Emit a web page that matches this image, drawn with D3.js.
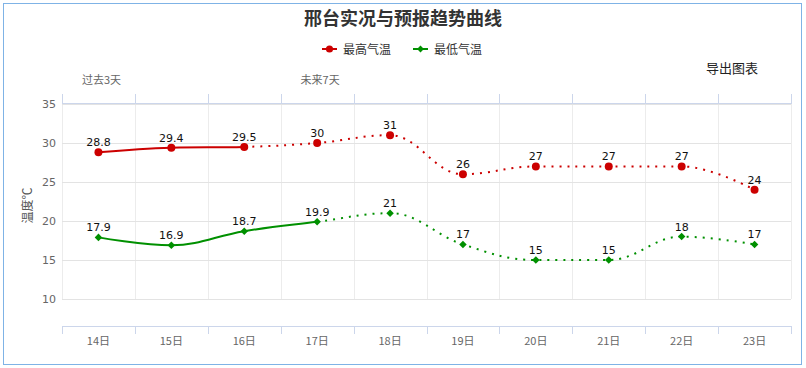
<!DOCTYPE html>
<html>
<head>
<meta charset="utf-8">
<script src="https://cdn.jsdelivr.net/npm/d3@7"></script>
<style>
html,body{margin:0;padding:0;background:#fff;}
svg{display:block;font-family:"DejaVu Sans","Noto Sans CJK SC",sans-serif;}
.cjk{font-family:"Noto Sans CJK SC","DejaVu Sans",sans-serif;}
</style>
</head>
<body>
<svg id="chart" width="806" height="368"></svg>
<script>
const categories = ["14日","15日","16日","17日","18日","19日","20日","21日","22日","23日"];
const highTemps = [28.8, 29.4, 29.5, 30, 31, 26, 27, 27, 27, 24];
const lowTemps  = [17.9, 16.9, 18.7, 19.9, 21, 17, 15, 15, 18, 17];
const highObservedUntil = 2; // index of last observed (solid) point
const lowObservedUntil = 3;
const yTicks = [10, 15, 20, 25, 30, 35];
const title = "邢台实况与预报趋势曲线";
const seriesNames = ["最高气温", "最低气温"];
const topLabels = ["过去3天", "未来7天"];

const plotL = 62, plotR = 791, plotT = 104, plotB = 299, xAxisY = 326;
const red = "#cc0000", green = "#009000";

const svg = d3.select("#chart");

// outer border
svg.append("rect").attr("x", 3.5).attr("y", 3.5).attr("width", 798).attr("height", 361)
  .attr("fill", "#fff").attr("stroke", "#7fb3e6").attr("stroke-width", 1);

const x = d3.scaleBand().domain(categories).range([plotL, plotR]).padding(0);
const cx = c => x(c) + x.bandwidth() / 2;
const y = d3.scaleLinear().domain([10, 35]).range([plotB, plotT]);
const boundaries = categories.map(c => x(c)).concat([plotR]);

// vertical grid lines
svg.append("g").selectAll("line").data(boundaries).join("line")
  .attr("x1", d => Math.round(d) + 0.5).attr("x2", d => Math.round(d) + 0.5)
  .attr("y1", plotT).attr("y2", plotB)
  .attr("stroke", "#ececec").attr("stroke-width", 1);

// horizontal grid + y labels
const yAxis = svg.append("g").attr("transform", `translate(${plotL},0)`)
  .call(d3.axisLeft(y).tickValues(yTicks).tickSize(-(plotR - plotL)).tickPadding(6).tickFormat(d3.format("d")));
yAxis.select(".domain").remove();
yAxis.selectAll(".tick line").attr("stroke", "#e3e3e3");
yAxis.selectAll(".tick text").attr("fill", "#666").attr("font-size", 11)
  .attr("font-family", "DejaVu Sans, sans-serif");

// y axis title
svg.append("text").attr("class", "cjk")
  .attr("transform", `translate(32,${(plotT + plotB) / 2 + 4}) rotate(-90)`)
  .attr("text-anchor", "middle").attr("fill", "#555").attr("font-size", 12)
  .text("温度℃");

// top axis
svg.append("line").attr("x1", plotL).attr("x2", plotR).attr("y1", plotT - 0.5).attr("y2", plotT - 0.5)
  .attr("stroke", "#ccd6eb");
svg.append("g").selectAll("line").data(boundaries).join("line")
  .attr("x1", d => Math.round(d) + 0.5).attr("x2", d => Math.round(d) + 0.5)
  .attr("y1", plotT - 10).attr("y2", plotT)
  .attr("stroke", "#ccd6eb");
svg.append("g").selectAll("text").data(topLabels).join("text").attr("class", "cjk")
  .attr("x", (d, i) => i === 0 ? cx(categories[0]) + 3 : cx(categories[3]) + 3)
  .attr("y", 84).attr("text-anchor", "middle").attr("fill", "#666").attr("font-size", 11)
  .text(d => d);

// bottom axis
svg.append("line").attr("x1", plotL).attr("x2", plotR).attr("y1", xAxisY + 0.5).attr("y2", xAxisY + 0.5)
  .attr("stroke", "#ccd6eb");
svg.append("g").selectAll("line").data(boundaries).join("line")
  .attr("x1", d => Math.round(d) + 0.5).attr("x2", d => Math.round(d) + 0.5)
  .attr("y1", xAxisY).attr("y2", xAxisY + 8)
  .attr("stroke", "#ccd6eb");
svg.append("g").selectAll("text").data(categories).join("text").attr("class", "cjk")
  .attr("x", d => cx(d)).attr("y", 345).attr("text-anchor", "middle")
  .attr("fill", "#666").attr("font-size", 11).text(d => d);

// Highcharts-like spline
function splinePaths(vals, splitIdx) {
  const pts = vals.map((v, i) => ({ x: cx(categories[i]), y: y(v) }));
  const sm = 1.5, den = sm + 1;
  const segs = [];
  let prevRight = null;
  for (let i = 0; i < pts.length; i++) {
    const p = pts[i], last = pts[i - 1], next = pts[i + 1];
    let lcx = p.x, lcy = p.y, rc = null;
    if (last && next) {
      let lx = (sm * p.x + last.x) / den, ly = (sm * p.y + last.y) / den;
      let rx = (sm * p.x + next.x) / den, ry = (sm * p.y + next.y) / den;
      let corr = 0;
      if (rx !== lx) corr = ((ry - ly) * (rx - p.x)) / (rx - lx) + p.y - ry;
      ly += corr; ry += corr;
      if (ly > last.y && ly > p.y) { ly = Math.max(last.y, p.y); ry = 2 * p.y - ly; }
      else if (ly < last.y && ly < p.y) { ly = Math.min(last.y, p.y); ry = 2 * p.y - ly; }
      if (ry > next.y && ry > p.y) { ry = Math.max(next.y, p.y); ly = 2 * p.y - ry; }
      else if (ry < next.y && ry < p.y) { ry = Math.min(next.y, p.y); ly = 2 * p.y - ry; }
      lcx = lx; lcy = ly; rc = { x: rx, y: ry };
    }
    if (i > 0) {
      const a = prevRight || pts[i - 1];
      segs[i] = `C${a.x},${a.y},${lcx},${lcy},${p.x},${p.y}`;
    }
    prevRight = rc;
  }
  let solid = `M${pts[0].x},${pts[0].y}`;
  for (let i = 1; i <= splitIdx; i++) solid += segs[i];
  let dotted = `M${pts[splitIdx].x},${pts[splitIdx].y}`;
  for (let i = splitIdx + 1; i < pts.length; i++) dotted += segs[i];
  return { solid, dotted, pts };
}

function drawSeries(vals, splitIdx, color, symbol) {
  const g = svg.append("g");
  const p = splinePaths(vals, splitIdx);
  g.append("path").attr("d", p.solid).attr("fill", "none").attr("stroke", color)
    .attr("stroke-width", 2).attr("stroke-linejoin", "round").attr("stroke-linecap", "round");
  g.append("path").attr("d", p.dotted).attr("fill", "none").attr("stroke", color)
    .attr("stroke-width", 2).attr("stroke-dasharray", "2,6");
  const sym = d3.symbol().type(symbol === "circle" ? d3.symbolCircle : d3.symbolDiamond2)
    .size(symbol === "circle" ? 50 : 36);
  g.selectAll("path.m").data(p.pts).join("path").attr("class", "m")
    .attr("transform", d => `translate(${d.x},${d.y})`).attr("d", sym()).attr("fill", color);
  g.selectAll("text").data(vals).join("text")
    .attr("x", (d, i) => p.pts[i].x).attr("y", (d, i) => p.pts[i].y - 6)
    .attr("text-anchor", "middle").attr("font-size", 11).attr("fill", "#111")
    .text(d => d);
}
drawSeries(highTemps, highObservedUntil, red, "circle");
drawSeries(lowTemps, lowObservedUntil, green, "diamond");

// title
svg.append("text").attr("class", "cjk").attr("x", 403).attr("y", 25).attr("text-anchor", "middle")
  .attr("font-size", 18).attr("font-weight", "bold").attr("fill", "#333").text(title);

// legend
const legend = svg.append("g");
const legendItems = [
  { name: seriesNames[0], color: red, sym: d3.symbolCircle, size: 40, x: 322 },
  { name: seriesNames[1], color: green, sym: d3.symbolDiamond2, size: 30, x: 413 }
];
legendItems.forEach(it => {
  legend.append("line").attr("x1", it.x).attr("x2", it.x + 15).attr("y1", 49).attr("y2", 49)
    .attr("stroke", it.color).attr("stroke-width", 2);
  legend.append("path").attr("transform", `translate(${it.x + 7.5},49)`)
    .attr("d", d3.symbol().type(it.sym).size(it.size)()).attr("fill", it.color);
  legend.append("text").attr("class", "cjk").attr("x", it.x + 21).attr("y", 53.5)
    .attr("font-size", 12).attr("fill", "#333").text(it.name);
});

// export button text
svg.append("text").attr("class", "cjk").attr("x", 706).attr("y", 73).attr("font-size", 13)
  .attr("fill", "#222").text("导出图表");
</script>
</body>
</html>
